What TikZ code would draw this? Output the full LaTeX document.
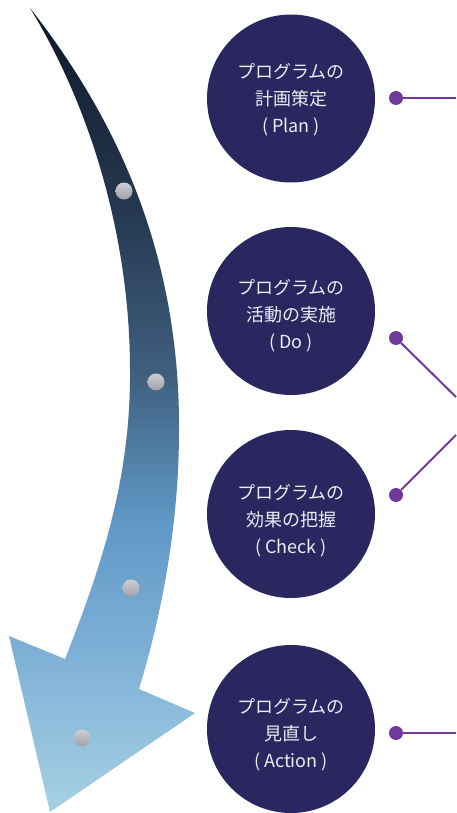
\documentclass[tikz,border=0pt]{standalone}
\usepackage{fontspec}
\newfontfamily\jpfont{Noto Sans CJK JP}
\definecolor{circfill}{RGB}{41,38,96}
\definecolor{txtcol}{RGB}{236,236,242}
\definecolor{conncol}{RGB}{112,58,156}
\definecolor{sA}{RGB}{14,25,42}
\definecolor{sB}{RGB}{36,54,78}
\definecolor{sC}{RGB}{64,96,128}
\definecolor{sD}{RGB}{95,153,198}
\definecolor{sE}{RGB}{126,176,214}
\definecolor{sF}{RGB}{166,208,228}
\definecolor{gA}{RGB}{206,206,212}
\definecolor{gB}{RGB}{160,160,170}
\pgfdeclareverticalshading{arrowshade}{100bp}{%
  color(0bp)=(sF); color(25bp)=(sF); color(35bp)=(sE); color(43bp)=(sD);
  color(52bp)=(sC); color(63bp)=(sB); color(75bp)=(sA); color(100bp)=(sA)}
\tikzset{
  circ/.style={circle, fill=circfill, minimum size=168pt, inner sep=0pt},
  lbl/.style={text=txtcol, align=center, font=\jpfont\fontsize{18}{27}\selectfont},
  pdot/.style={circle, fill=conncol, minimum size=14pt, inner sep=0pt},
  conn/.style={draw=conncol, line width=2pt},
  gdot/.style={circle, top color=gA, bottom color=gB, minimum size=17pt, inner sep=0pt},
}
\begin{document}
\begin{tikzpicture}[x=1pt,y=-1pt]
\useasboundingbox (0,0) rectangle (456,813);
% arrow
\path[shading=arrowshade]
  (30,8) .. controls (110,110) and (180,245) .. (179,430)
  .. controls (179,530) and (160,620) .. (139,689)
  -- (195,713) -- (50,812) -- (9,636) -- (65,659)
  .. controls (100,570) and (131,480) .. (130,370)
  .. controls (130,250) and (97,118) .. (30,8)
  -- cycle;
\node[gdot] (g1) at (124,191) {};
\node[gdot] (g2) at (156,382) {};
\node[gdot] (g3) at (131,588) {};
\node[gdot] (g4) at (82,738) {};
% circles
\node[circ] (plan) at (291,98.5) {};
\node[circ] (do) at (291,311) {};
\node[circ] (check) at (291,514) {};
\node[circ] (act) at (291,729) {};
\node[lbl] (tplan) at (291,100) {プログラムの\\計画策定\\( Plan )};
\node[lbl] (tdo) at (291,316) {プログラムの\\活動の実施\\( Do )};
\node[lbl] (tcheck) at (291,521) {プログラムの\\効果の把握\\( Check )};
\node[lbl] (tact) at (291,735) {プログラムの\\見直し\\( Action )};
% connectors
\coordinate (e1) at (456,98);
\coordinate (e2) at (456,397);
\coordinate (e3) at (456,435);
\coordinate (e4) at (456,733);
\node[pdot] (d1) at (396,98) {};
\node[pdot] (d2) at (396,338) {};
\node[pdot] (d3) at (396,495) {};
\node[pdot] (d4) at (396,733) {};
\draw[conn] (d1) -- (e1);
\draw[conn] (d2) -- (e2);
\draw[conn] (d3) -- (e3);
\draw[conn] (d4) -- (e4);
\end{tikzpicture}
\end{document}
